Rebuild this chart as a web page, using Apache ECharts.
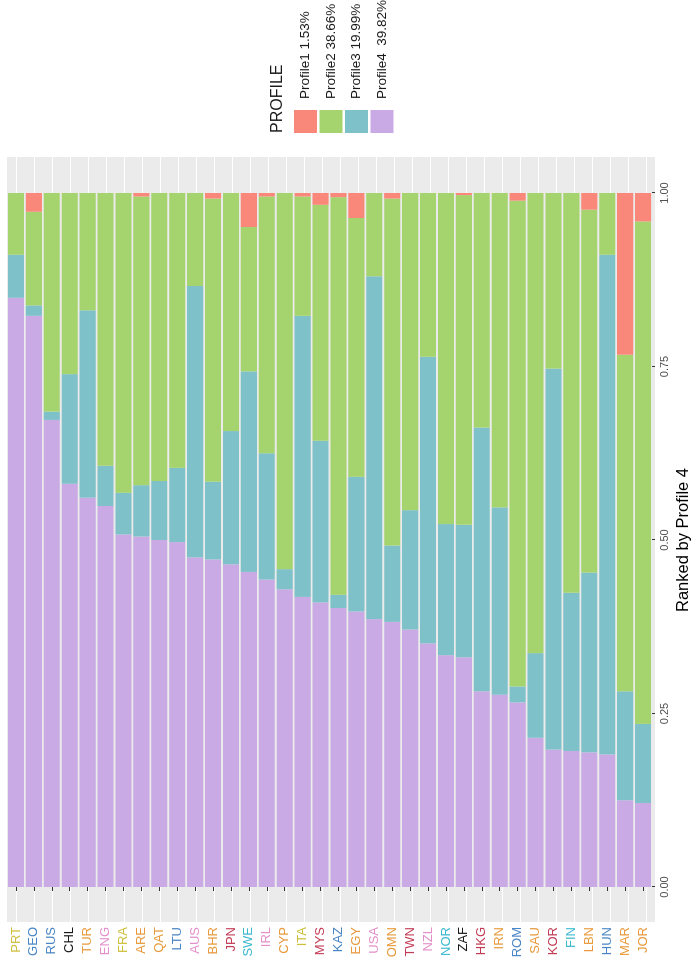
<!DOCTYPE html>
<html><head><meta charset="utf-8">
<script src="https://cdn.jsdelivr.net/npm/echarts@6/dist/echarts.min.js"></script>
<style>
html,body{margin:0;padding:0;width:697px;height:970px;overflow:hidden;background:#fff;}
#chart{position:absolute;left:0;top:0;width:970px;height:697px;transform-origin:0 0;transform:translate(0,970px) rotate(-90deg);}
</style></head><body><div id="chart"></div>
<script>
const categories = ['PRT','GEO','RUS','CHL','TUR','ENG','FRA','ARE','QAT','LTU','AUS','BHR','JPN','SWE','IRL','CYP','ITA','MYS','KAZ','EGY','USA','OMN','TWN','NZL','NOR','ZAF','HKG','IRN','ROM','SAU','KOR','FIN','LBN','HUN','MAR','JOR'];
const profile4 = [0.849,0.823,0.673,0.581,0.561,0.549,0.508,0.505,0.500,0.497,0.475,0.472,0.465,0.454,0.443,0.429,0.418,0.410,0.402,0.397,0.386,0.382,0.371,0.351,0.334,0.331,0.282,0.277,0.266,0.215,0.198,0.196,0.194,0.191,0.125,0.121];
const profile3 = [0.062,0.015,0.012,0.158,0.270,0.058,0.060,0.074,0.085,0.107,0.391,0.112,0.192,0.289,0.182,0.029,0.405,0.233,0.019,0.194,0.494,0.110,0.172,0.413,0.189,0.191,0.380,0.270,0.023,0.122,0.549,0.228,0.259,0.720,0.157,0.114];
const profile2 = [0.089,0.135,0.315,0.261,0.169,0.393,0.432,0.416,0.415,0.396,0.134,0.408,0.343,0.208,0.370,0.542,0.172,0.340,0.573,0.373,0.120,0.500,0.457,0.236,0.477,0.475,0.338,0.453,0.700,0.663,0.253,0.576,0.523,0.089,0.485,0.724];
const profile1 = [0,0.027,0,0,0,0,0,0.005,0,0,0,0.008,0,0.049,0.005,0,0.005,0.017,0.006,0.036,0,0.008,0,0,0,0.003,0,0,0.011,0,0,0,0.024,0,0.233,0.041];
const legendLabels = ['Profile1 1.53%','Profile2 38.66%','Profile3 19.99%','Profile4  39.82%'];
const valueTickStep = 0.25;

// styles
const YEL='#CDBF3C', BLU='#4A86C5', BLK='#1A1A1A', ORA='#E89A3C', PNK='#E48FCB', CRM='#C23B55', CYN='#3CB8CF';
const catColors = [YEL,BLU,BLU,BLK,ORA,PNK,YEL,ORA,ORA,BLU,PNK,ORA,CRM,CYN,PNK,ORA,YEL,CRM,BLU,ORA,PNK,ORA,CRM,PNK,CYN,BLK,CRM,ORA,BLU,ORA,CRM,CYN,ORA,BLU,ORA,ORA];
const seriesColors = ['#F9877A','#A5D46E','#7FC1C9','#CAAAE4'];
const FONT = '"Liberation Sans", Arial, sans-serif';

const chart = echarts.init(document.getElementById('chart'), null, {renderer:'canvas'});
const stackData = [profile1, profile2, profile3, profile4];
const series = [];
for (let k = 3; k >= 0; k--) {
  series.push({
    name: legendLabels[k], type:'bar', stack:'total', xAxisIndex:2, yAxisIndex:2,
    barCategoryGap:'10%', data: stackData[k], itemStyle:{color: seriesColors[k]},
    emphasis:{disabled:true}
  });
}
chart.setOption({
  animation:false,
  textStyle:{fontFamily:FONT},
  title:{text:'PROFILE', left:837, top:270, padding:0, textStyle:{fontSize:16, fontWeight:'normal', color:'#1a1a1a', fontFamily:FONT}},
  legend:{orient:'vertical', left:837, top:294, padding:0, itemWidth:23, itemHeight:23, itemGap:2.5, icon:'rect', selectedMode:false,
    data: legendLabels, textStyle:{fontSize:13.5, color:'#1a1a1a', padding:[0,0,0,6], fontFamily:FONT}},
  grid:[
    {left:48, right:157, top:7, bottom:42, show:true, backgroundColor:'#EBEBEB', borderWidth:0},
    {left:48, right:157, top:16, bottom:51},
    {left:83, right:193, top:7, bottom:42}
  ],
  xAxis:[
    {gridIndex:0, type:'value', show:false},
    {gridIndex:1, type:'value', show:false},
    {gridIndex:2, type:'value', min:0, max:1, interval:valueTickStep, position:'bottom',
     axisLine:{show:false}, axisTick:{show:true, length:3, lineStyle:{color:'#333'}},
     axisLabel:{margin:7, fontSize:11, color:'#4D4D4D', formatter:v=>v.toFixed(2), fontFamily:FONT},
     splitLine:{show:false},
     name:'Ranked by Profile 4', nameLocation:'middle', nameGap:23,
     nameTextStyle:{fontSize:16.5, color:'#000', fontFamily:FONT}}
  ],
  yAxis:[
    {gridIndex:0, type:'value', show:false},
    {gridIndex:1, type:'category', data:categories, boundaryGap:false, inverse:true,
     axisLine:{show:false}, axisTick:{show:false}, axisLabel:{show:false},
     splitLine:{show:true, interval:0, lineStyle:{color:'#ffffff', width:1.2}}},
    {gridIndex:2, type:'category', data:categories, inverse:true, offset:35, position:'left',
     axisLine:{show:false}, axisTick:{show:true, alignWithLabel:true, interval:0, length:4, lineStyle:{color:'#333'}},
     axisLabel:{interval:0, margin:5, fontSize:13, fontFamily:FONT, color:(v,i)=>catColors[i]},
     splitLine:{show:false}}
  ],
  series: series
});
</script></body></html>
